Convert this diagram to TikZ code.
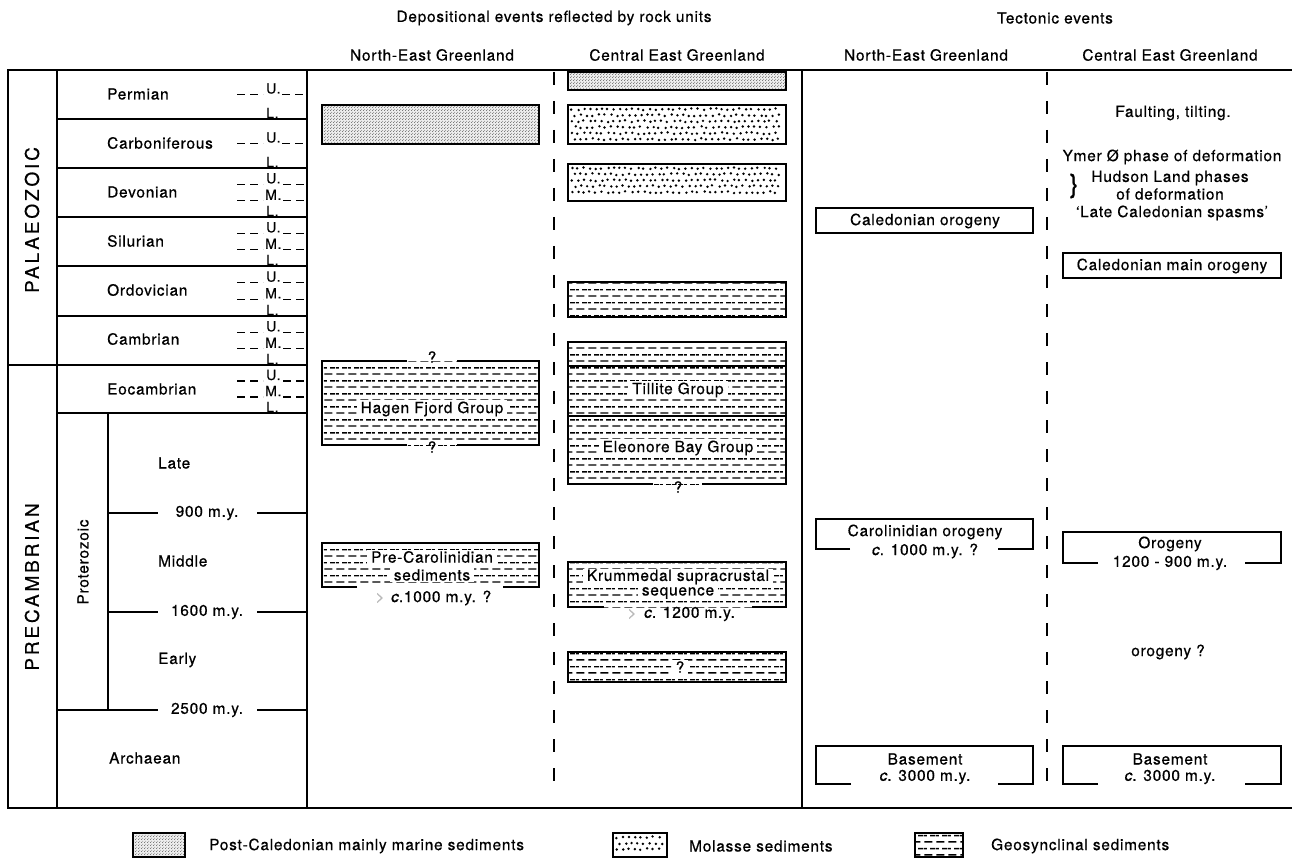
\documentclass[tikz,border=0pt]{standalone}
\usepackage{fontspec}
\setmainfont{TeX Gyre Heros}[LetterSpace=5,FakeBold=0.6]
\usetikzlibrary{patterns}

\pgfdeclarepatternformonly{finedots}{\pgfpointorigin}{\pgfqpoint{3pt}{3pt}}{\pgfqpoint{3pt}{3pt}}{%
  \pgfpathcircle{\pgfqpoint{0.75pt}{0.75pt}}{0.6pt}%
  \pgfpathcircle{\pgfqpoint{2.25pt}{2.25pt}}{0.6pt}%
  \pgfusepath{fill}}
\pgfdeclarepatternformonly{geosyn}{\pgfpointorigin}{\pgfqpoint{12pt}{13pt}}{\pgfqpoint{12pt}{13pt}}{%
  \pgfsetlinewidth{1.4pt}%
  \pgfpathmoveto{\pgfqpoint{0.5pt}{3.25pt}}\pgfpathlineto{\pgfqpoint{9pt}{3.25pt}}%
  \pgfpathmoveto{\pgfqpoint{6.5pt}{9.75pt}}\pgfpathlineto{\pgfqpoint{12pt}{9.75pt}}%
  \pgfpathmoveto{\pgfqpoint{0pt}{9.75pt}}\pgfpathlineto{\pgfqpoint{3pt}{9.75pt}}%
  \pgfusepath{stroke}}

% molasse: explicit, slightly irregular large dots
\newcommand\molfill[4]{%
  \pgfmathtruncatemacro\molnx{(#3-#1-10)/6}%
  \pgfmathtruncatemacro\molny{(#4-#2-8)/6}%
  \foreach \i in {0,...,\molnx}{\foreach \j in {0,...,\molny}{%
    \pgfmathsetmacro\molxx{#1+3.8+\i*6+mod(\j,2)*3+rand*1.0}%
    \pgfmathsetmacro\molyy{#2+4.2+\j*6+rand*0.9}%
    \fill (\molxx,\molyy) circle (1.35pt);}}}

\tikzset{
  frame/.style={line width=2pt},
  boxline/.style={line width=2pt},
  sepdash/.style={line width=2pt, dash pattern=on 13pt off 16pt},
  subdash/.style={line width=1.5pt, dash pattern=on 8pt off 5pt},
  txt/.style={font=\fontsize{15.4}{17}\selectfont, inner sep=1pt},
  subtxt/.style={font=\fontsize{14}{14}\selectfont, inner sep=0pt, anchor=west},
  eratxt/.style={font=\fontsize{19}{20}\selectfont\addfontfeature{LetterSpace=15}, rotate=90, inner sep=0pt},
  lbl/.style={txt, fill=white, inner xsep=4pt, inner ysep=2pt},
  geo/.style={pattern=geosyn},
  post/.style={preaction={fill=gray!14}, pattern=finedots, pattern color=gray!65!black},
  faint/.style={text=gray!55},
}

\begin{document}
\begin{tikzpicture}[x=1pt,y=-1pt]
\pgfmathsetseed{12}
\useasboundingbox (0,0) rectangle (1292,858);

% headers
\node[txt] (hdep) at (554,18) {Depositional events reflected by rock units};
\node[txt] (htec) at (1055,18) {Tectonic events};
\node[txt] (h1) at (432,55) {North-East Greenland};
\node[txt] (h2) at (677,55) {Central East Greenland};
\node[txt] (h3) at (926,55) {North-East Greenland};
\node[txt] (h4) at (1170,55) {Central East Greenland};

% frame
\draw[frame] (1292,70) -- (8,70) -- (8,808) -- (1292,808);
\draw[frame] (57,70) -- (57,808);
\draw[frame] (307,70) -- (307,808);
\draw[frame] (802,70) -- (802,808);
\draw[frame] (8,365) -- (307,365);
\foreach \y in {119,168,217,266,316,413} \draw[frame] (57,\y) -- (307,\y);
\draw[frame] (108,413) -- (108,710);
\draw[frame] (108,513) -- (158,513) (257,513) -- (307,513);
\draw[frame] (108,612) -- (158,612) (257,612) -- (307,612);
\draw[frame] (57,710) -- (158,710) (257,710) -- (307,710);

% separators
\draw[sepdash] (554,72) -- (554,796);
\draw[sepdash] (1047,72) -- (1047,796);

% era labels
\node[eratxt] (palaeo) at (32,220) {PALAEOZOIC};
\node[eratxt] (precam) at (32,587) {PRECAMBRIAN};
\node[txt, rotate=90] (protero) at (83,562) {Proterozoic};

% periods
\node[txt, anchor=west] (perm) at (106,94) {Permian};
\node[txt, anchor=west] (carb) at (106,143) {Carboniferous};
\node[txt, anchor=west] (devo) at (106,192) {Devonian};
\node[txt, anchor=west] (silu) at (106,241) {Silurian};
\node[txt, anchor=west] (ordo) at (106,290) {Ordovician};
\node[txt, anchor=west] (camb) at (106,339) {Cambrian};
\node[txt, anchor=west] (eoca) at (106,389) {Eocambrian};
\node[txt, anchor=west] (late) at (157,463) {Late};
\node[txt, anchor=west] (midd) at (157,561) {Middle};
\node[txt, anchor=west] (earl) at (157,660) {Early};
\node[txt, anchor=west] (arch) at (108,758) {Archaean};
\node[txt] (my900) at (207,513) {900 m.y.};
\node[txt] (my1600) at (207,612) {1600 m.y.};
\node[txt] (my2500) at (207,710) {2500 m.y.};

% U./L. subdivisions
\foreach \t/\b in {70/119,119/168} {
  \pgfmathsetmacro\m{(\t+\b)/2}
  \draw[subdash] (237,\m) -- (263,\m) (282,\m) -- (307,\m);
  \node[subtxt] (u\t) at (266,\m-6) {U.};
  \node[subtxt] (l\t) at (266,\b-6) {L.};
}
\foreach \t/\b in {168/217,217/266,266/316,316/365,365/413} {
  \pgfmathsetmacro\ya{\t+(\b-\t)/3}
  \pgfmathsetmacro\yb{\t+2*(\b-\t)/3}
  \draw[subdash] (237,\ya) -- (263,\ya) (283,\ya) -- (307,\ya);
  \draw[subdash] (237,\yb) -- (263,\yb) (283,\yb) -- (307,\yb);
  \node[subtxt] (u\t) at (266,\ya-6) {U.};
  \node[subtxt] (m\t) at (265,\yb-6) {M.};
  \node[subtxt] (l\t) at (266,\b-6) {L.};
}

% ---- NE Greenland deposits
\fill[post] (322,105) rectangle (539,144);
\draw[boxline] (322,105) rectangle (539,144);

\fill[geo] (322,361) rectangle (539,445);
\draw[boxline] (407,361) -- (322,361) -- (322,445) -- (407,445)
               (457,361) -- (539,361) -- (539,445) -- (457,445);
\node[txt] (hq1) at (432,357) {?};
\node[txt] (hq2) at (432,447) {?};
\node[lbl] (hagen) at (432,409) {Hagen Fjord Group};

\fill[geo] (322,543) rectangle (539,587);
\draw[boxline] (357,587) -- (322,587) -- (322,543) -- (539,543) -- (539,587) -- (503,587);
\node[lbl, inner ysep=1pt] (precar1) at (432,557) {Pre-Carolinidian};
\node[lbl, inner ysep=1pt] (precar2) at (432,575) {sediments};
\node[txt, faint] (gt1) at (380,598) {>};
\node[txt, anchor=west] (precar3) at (390,598) {\textit{c}.1000 m.y. ?};

% ---- Central East Greenland deposits
\fill[post] (568,72) rectangle (786,90);
\draw[boxline] (568,72) rectangle (786,90);
\molfill{568}{105}{786}{144}
\draw[boxline] (568,105) rectangle (786,144);
\molfill{568}{164}{786}{201}
\draw[boxline] (568,164) rectangle (786,201);
\fill[geo] (568,282) rectangle (786,317);
\draw[boxline] (568,282) rectangle (786,317);

\fill[geo] (568,342) rectangle (786,484);
\draw[boxline] (653,484) -- (568,484) -- (568,342) -- (786,342) -- (786,484) -- (702,484);
\draw[boxline] (568,366) -- (786,366) (568,416) -- (786,416);
\node[lbl] (tillite) at (678,390) {Tillite Group};
\node[lbl] (eleonore) at (678,448) {Eleonore Bay Group};
\node[txt] (eq) at (678,487) {?};

\fill[geo] (568,562) rectangle (786,607);
\draw[boxline] (604,607) -- (568,607) -- (568,562) -- (786,562) -- (786,607) -- (752,607);
\node[lbl, inner ysep=1pt] (krum1) at (678,577) {Krummedal supracrustal};
\node[lbl, inner ysep=1pt] (krum2) at (678,593) {sequence};
\node[txt, faint] (gt2) at (632,614) {>};
\node[txt, anchor=west] (krum3) at (643,614) {\textit{c}. 1200 m.y.};

\fill[geo] (568,652) rectangle (786,682);
\draw[boxline] (568,652) rectangle (786,682);
\node[lbl, inner ysep=1pt] (sq) at (680,667) {?};

% ---- Tectonic NE Greenland
\draw[boxline] (816,208) rectangle (1033,233);
\node[txt] (calor) at (925,221) {Caledonian orogeny};
\draw[boxline] (850,549) -- (816,549) -- (816,519) -- (1033,519) -- (1033,549) -- (998,549);
\node[txt] (carol1) at (925,532) {Carolinidian orogeny};
\node[txt] (carol2) at (925,551) {\textit{c}. 1000 m.y. ?};
\draw[boxline] (851,784) -- (816,784) -- (816,746) -- (1033,746) -- (1033,784) -- (998,784);
\node[txt] (bas1) at (925,759) {Basement};
\node[txt] (bas2) at (925,777) {\textit{c}. 3000 m.y.};

% ---- Tectonic Central East Greenland
\node[txt] (fault) at (1173,113) {Faulting, tilting.};
\node[txt] (ymer) at (1172,157) {Ymer Ø phase of deformation};
\node[font=\fontsize{26}{26}\selectfont, inner sep=0pt] (brace) at (1074,186) {\}};
\node[txt] (hud1) at (1170,178) {Hudson Land phases};
\node[txt] (hud2) at (1170,194) {of deformation};
\node[txt] (spasm) at (1172,213) {‘Late Caledonian spasms’};
\draw[boxline] (1063,253) rectangle (1281,278);
\node[txt] (calmain) at (1172,266) {Caledonian main orogeny};
\draw[boxline] (1098,563) -- (1063,563) -- (1063,532) -- (1281,532) -- (1281,563) -- (1245,563);
\node[txt] (oro1) at (1170,544) {Orogeny};
\node[txt] (oro2) at (1170,563) {1200 - 900 m.y.};
\node[txt] (oroq) at (1168,652) {orogeny ?};
\draw[boxline] (1098,784) -- (1063,784) -- (1063,746) -- (1281,746) -- (1281,784) -- (1245,784);
\node[txt] (bas3) at (1170,759) {Basement};
\node[txt] (bas4) at (1170,777) {\textit{c}. 3000 m.y.};

% ---- legend
\fill[post] (133,833) rectangle (185,857);
\draw[line width=1.4pt] (133,833) rectangle (185,857);
\node[txt, anchor=west] (leg1) at (208,846) {Post-Caledonian mainly marine sediments};
\molfill{613}{833}{667}{857}
\draw[line width=1.4pt] (613,833) rectangle (667,857);
\node[txt, anchor=west] (leg2) at (688,846) {Molasse sediments};
\fill[geo] (915,833) rectangle (963,857);
\draw[line width=1.4pt] (915,833) rectangle (963,857);
\node[txt, anchor=west] (leg3) at (990,846) {Geosynclinal sediments};
\end{tikzpicture}
\end{document}
